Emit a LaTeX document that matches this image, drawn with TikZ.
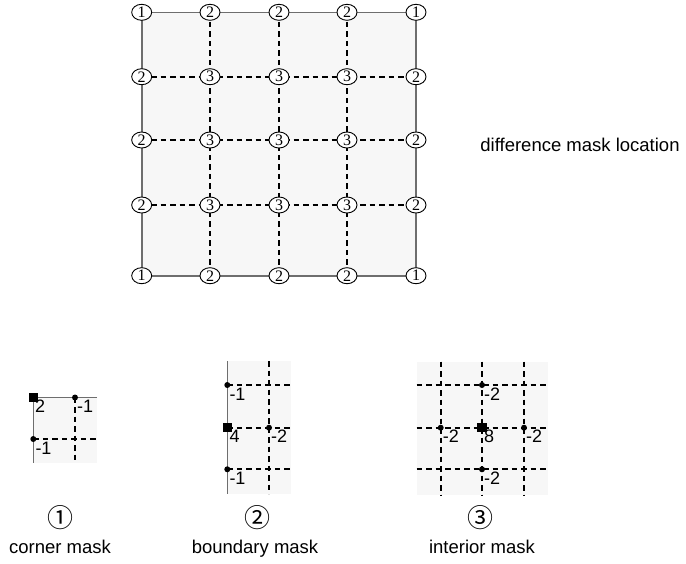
\documentclass[tikz,border=0pt]{standalone}
\usepackage{fontspec}
\setmainfont{Liberation Sans}
\newfontfamily\symfont{Noto Sans CJK SC}
\newfontfamily\numfont{Liberation Serif}
\usetikzlibrary{shapes.geometric}
\definecolor{cellgray}{HTML}{F7F7F7}
\definecolor{edgegray}{HTML}{6E6E6E}
\tikzset{
  border/.style={draw=edgegray, line width=1.6pt},
  gridline/.style={draw=black, line width=1.8pt, dash pattern=on 5.5pt off 4pt},
  vertex/.style={ellipse, draw=black, line width=0.9pt, fill=white,
    minimum width=20pt, minimum height=16pt, inner sep=0pt,
    font=\numfont\fontsize{16}{16}\selectfont},
  weight/.style={anchor=north west, inner sep=0pt, font=\fontsize{18}{18}\selectfont},
  dot/.style={circle, fill=black, inner sep=0pt, minimum size=6pt},
  centre/.style={rectangle, fill=black, inner sep=0pt, minimum size=9.5pt},
  caption/.style={anchor=base, inner sep=0pt, font=\fontsize{18.5}{20}\selectfont},
  tag/.style={inner sep=0pt, font=\symfont\fontsize{26}{26}\selectfont},
}
\begin{document}
\begin{tikzpicture}[x=1pt,y=-1pt]
\useasboundingbox (0,0) rectangle (686,563);

% ---------- 5x5 grid of mask locations ----------
\foreach \x [count=\i from 0] in {141.7,210,279,347,416} {
  \foreach \y [count=\j from 0] in {12.3,76.7,140,205,275.7} {
    \coordinate (g\i\j) at (\x,\y);
  }
}
\fill[cellgray] (g00) rectangle (g44);
\foreach \k in {1,2,3} {
  \draw[gridline] (g\k0) -- (g\k4);
  \draw[gridline] (g0\k) -- (g4\k);
}
\draw[border] (g00) -- (g40) -- (g44) -- (g04) -- cycle;
\foreach \i in {0,...,4} {
  \foreach \j in {0,...,4} {
    \pgfmathtruncatemacro\ei{(\i==0||\i==4)?1:0}
    \pgfmathtruncatemacro\ej{(\j==0||\j==4)?1:0}
    \pgfmathtruncatemacro\kind{3-\ei-\ej}
    \node[vertex] (v\i\j) at (g\i\j) {\kind};
  }
}
\node[caption] (loc) at (580,151) {difference mask location};

% ---------- corner mask ----------
\coordinate (c00) at (33.3,397.5);
\coordinate (c10) at (75,397.5);
\coordinate (c01) at (33.3,439);
\fill[cellgray] (c00) rectangle (97,463);
\coordinate (cR) at (97,439);
\coordinate (cB) at (75,463);
\coordinate (cTR) at (97,397.5);
\coordinate (cBL) at (33.3,463);
\draw[gridline] (c01) -- (cR);
\draw[gridline] (c10) -- (cB);
\draw[border] (cTR) -- (c00) -- (cBL);
\node[centre] (cm) at (c00) {};
\node[dot] (ca) at (c10) {};
\node[dot] (cb) at (c01) {};
\node[weight] (cw0) at ([shift={(1.5,2)}]c00) {2};
\node[weight] (cw1) at ([shift={(2,2.5)}]c10) {-1};
\node[weight] (cw2) at ([shift={(2,2.5)}]c01) {-1};
\node[tag] (t1) at (60,518) {①};
\node[caption] (n1) at (60,553) {corner mask};

% ---------- boundary mask ----------
\fill[cellgray] (227.3,361) rectangle (291,494);
\foreach \y [count=\r] in {385,427.7,469.3} {
  \coordinate (bl\r) at (227.3,\y);
  \coordinate (br\r) at (291,\y);
  \draw[gridline] (bl\r) -- (br\r);
}
\coordinate (bT) at (269,361);
\coordinate (bB) at (269,494);
\coordinate (bm) at (269,427.7);
\draw[gridline] (bT) -- (bB);
\coordinate (bLT) at (227.3,361);
\coordinate (bLB) at (227.3,494);
\draw[border] (bLT) -- (bLB);
\node[dot] (bd1) at (bl1) {};
\node[dot] (bd3) at (bl3) {};
\node[dot] (bd2) at (bm) {};
\node[centre] (bc) at (bl2) {};
\node[weight] (bw1) at ([shift={(2,2.5)}]bl1) {-1};
\node[weight] (bw2) at ([shift={(2,2.5)}]bl2) {4};
\node[weight] (bw3) at ([shift={(2,2.5)}]bm) {-2};
\node[weight] (bw4) at ([shift={(2,2.5)}]bl3) {-1};
\node[tag] (t2) at (257,518) {②};
\node[caption] (n2) at (255,553) {boundary mask};

% ---------- interior mask ----------
\fill[cellgray] (416.7,361.7) rectangle (547.7,495);
\foreach \y [count=\r] in {385,427.7,469.3} {
  \coordinate (il\r) at (416.7,\y);
  \coordinate (ir\r) at (547.7,\y);
  \draw[gridline] (il\r) -- (ir\r);
}
\foreach \x [count=\c] in {440.7,482,524} {
  \coordinate (it\c) at (\x,361.7);
  \coordinate (ib\c) at (\x,495);
  \draw[gridline] (it\c) -- (ib\c);
}
\coordinate (iN) at (482,385);
\coordinate (iW) at (440.7,427.7);
\coordinate (iE) at (524,427.7);
\coordinate (iS) at (482,469.3);
\coordinate (iC) at (482,427.7);
\foreach \p in {iN,iW,iE,iS} {
  \node[dot] (d\p) at (\p) {};
  \node[weight] (w\p) at ([shift={(2,2.5)}]\p) {-2};
}
\node[centre] (ic) at (iC) {};
\node[weight] (iw) at ([shift={(2,2.5)}]iC) {8};
\node[tag] (t3) at (480,518) {③};
\node[caption] (n3) at (482,553) {interior mask};
\end{tikzpicture}
\end{document}
